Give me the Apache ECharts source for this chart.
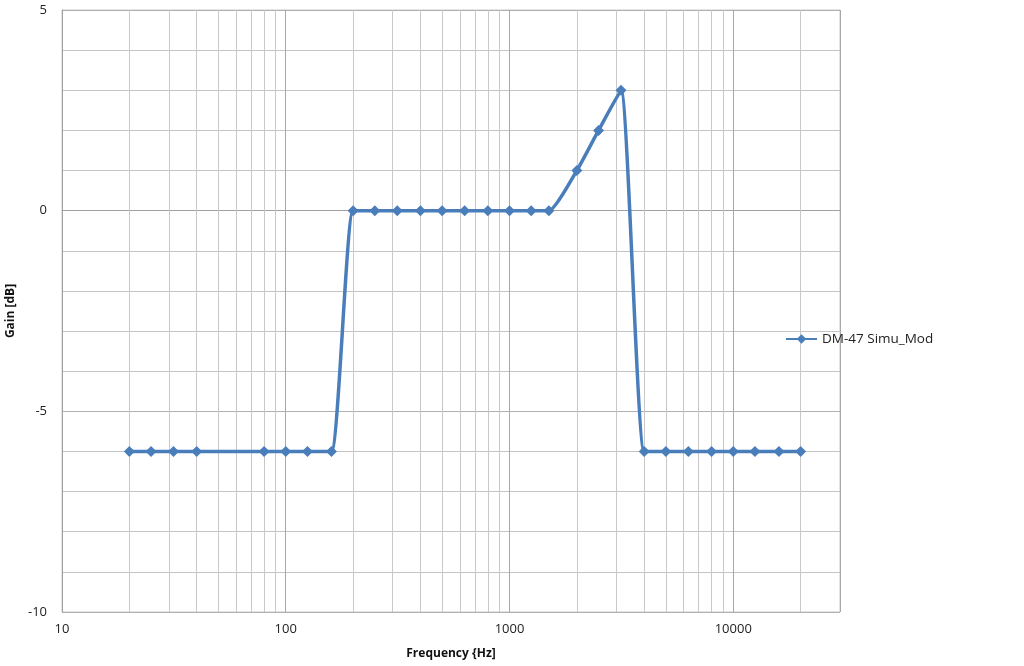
<!DOCTYPE html>
<html>
<head>
<meta charset="utf-8">
<script src="https://cdn.jsdelivr.net/npm/echarts@6/dist/echarts.min.js"></script>
<style>html,body{margin:0;padding:0;background:#fff}#c{width:1024px;height:666px}</style>
</head>
<body>
<div id="c"></div>
<script>
const freqs = [20, 25, 31.5, 40, 80, 100, 125, 160, 200, 250, 315, 400, 500, 630, 800, 1000, 1250, 1500, 2000, 2500, 3150, 4000, 5000, 6300, 8000, 10000, 12500, 16000, 20000];
const gains = [-6, -6, -6, -6, -6, -6, -6, -6, 0, 0, 0, 0, 0, 0, 0, 0, 0, 0, 1, 2, 3, -6, -6, -6, -6, -6, -6, -6, -6];
const seriesName = 'DM-47 Simu_Mod';
const minorFreqs = [20,30,40,50,60,70,80,90,200,300,400,500,600,700,800,900,2000,3000,4000,5000,6000,7000,8000,9000,20000];

const chart = echarts.init(document.getElementById('c'));
const font = '"Open Sans", "Noto Sans", sans-serif';
chart.setOption({
  animation: false,
  grid: { left: 62, right: 184, top: 10, bottom: 54, outerBoundsMode: 'none', containLabel: false,
          show: true, borderColor: '#c8c8c8', borderWidth: 1 },
  legend: {
    data: [seriesName], orient: 'vertical', left: 780, top: 327,
    itemWidth: 31, itemHeight: 12,
    textStyle: { fontFamily: font, fontSize: 13.5, color: '#222' }
  },
  xAxis: {
    type: 'log', logBase: 10, min: 10, max: 30000,
    name: 'Frequency {Hz]', nameLocation: 'middle', nameGap: 36,
    nameTextStyle: { fontFamily: font, fontSize: 12, fontWeight: 'bold', color: '#111' },
    axisLine: { show: true, lineStyle: { color: '#a0a0a0' } },
    axisTick: { show: false },
    axisLabel: { fontFamily: font, fontSize: 13, color: '#222', margin: 11, showMaxLabel: false,
                 formatter: v => String(Math.round(v)) },
    splitLine: { show: true, lineStyle: { color: '#a8a8a8', width: 1 } },
    minorTick: { show: false }, minorSplitLine: { show: false }
  },
  yAxis: {
    type: 'value', min: -10, max: 5, interval: 5,
    name: 'Gain [dB]', nameLocation: 'middle', nameGap: 40, nameRotate: 90,
    nameTextStyle: { fontFamily: font, fontSize: 12, fontWeight: 'bold', color: '#111' },
    axisLine: { show: true, lineStyle: { color: '#a0a0a0' } },
    axisTick: { show: false },
    axisLabel: { fontFamily: font, fontSize: 13, color: '#222', margin: 15 },
    splitLine: { show: true, lineStyle: { color: '#b0b0b0' } },
    minorTick: { show: false, splitNumber: 5 },
    minorSplitLine: { show: true, lineStyle: { color: '#c4c4c4' } }
  },
  series: [{
    name: seriesName, type: 'line', smooth: 0.17,
    data: freqs.map((f, i) => [f, gains[i]]),
    symbol: 'diamond', symbolSize: 11,
    lineStyle: { color: '#4a7ebb', width: 3.5 },
    itemStyle: { color: '#4a7ebb' },
    z: 5,
    markLine: {
      silent: true, symbol: 'none', label: { show: false },
      lineStyle: { color: '#c8c8c8', width: 1, type: 'solid' },
      data: minorFreqs.map(v => ({ xAxis: v })),
      z: 1
    }
  }]
});
</script>
</body>
</html>
